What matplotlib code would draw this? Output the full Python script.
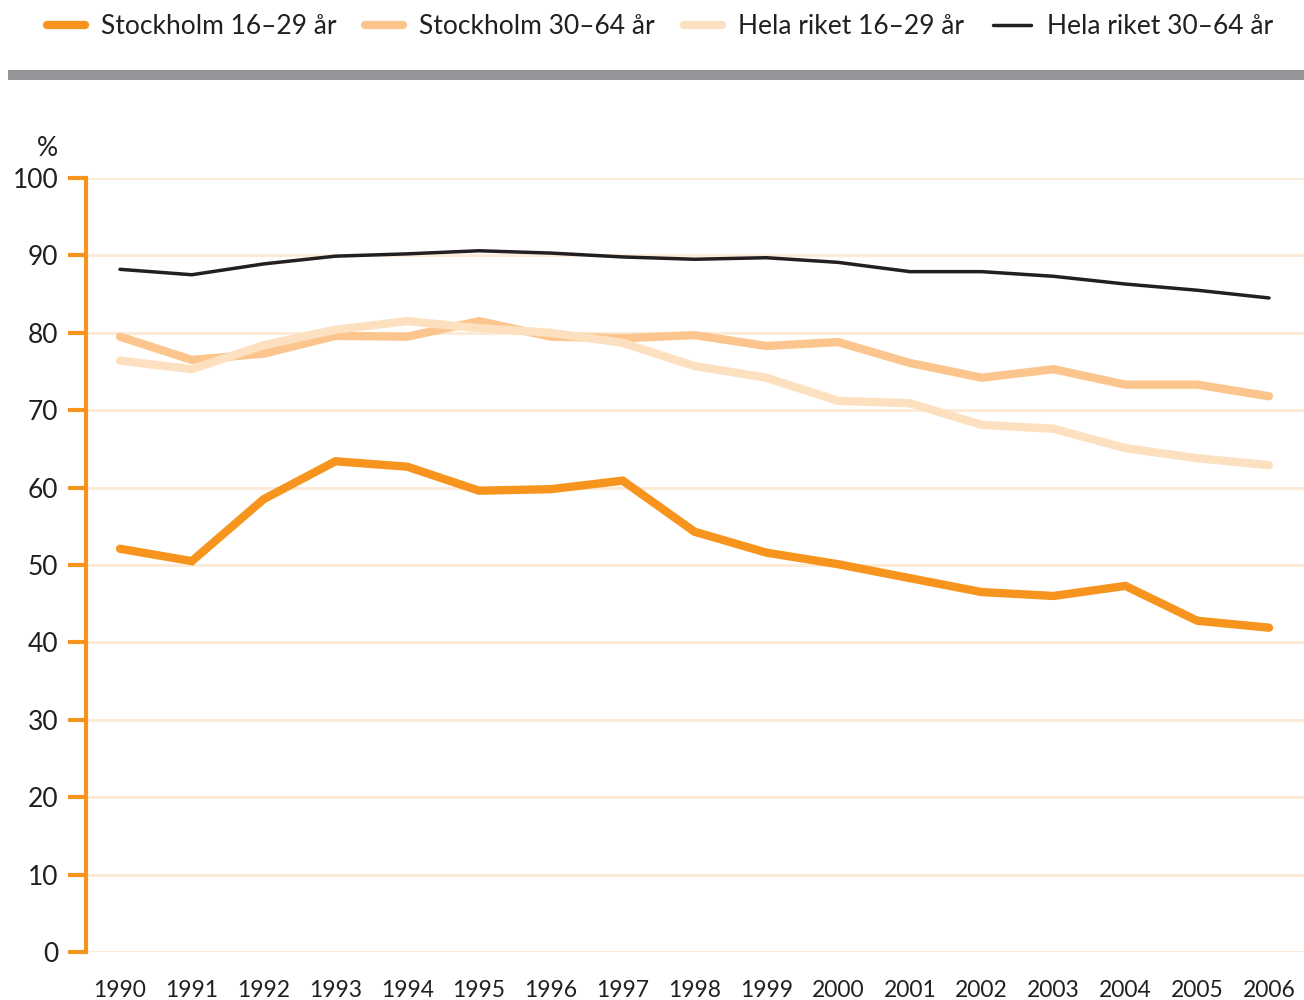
import matplotlib
matplotlib.use("Agg")
import matplotlib.pyplot as plt
from matplotlib.patches import Rectangle

years = list(range(1990, 2007))
sthlm_16_29 = [52.1, 50.5, 58.5, 63.4, 62.7, 59.6, 59.8, 60.9, 54.3, 51.6, 50.1, 48.3, 46.5, 46.0, 47.3, 42.8, 41.9]
sthlm_30_64 = [79.5, 76.5, 77.3, 79.6, 79.5, 81.5, 79.5, 79.3, 79.7, 78.3, 78.8, 76.1, 74.2, 75.3, 73.3, 73.3, 71.8]
riket_16_29 = [76.4, 75.3, 78.4, 80.4, 81.5, 80.6, 80.0, 78.7, 75.7, 74.2, 71.2, 70.9, 68.1, 67.6, 65.1, 63.8, 62.9]
riket_30_64 = [88.2, 87.5, 88.9, 89.9, 90.2, 90.6, 90.3, 89.8, 89.5, 89.7, 89.1, 87.9, 87.9, 87.3, 86.3, 85.5, 84.5]
labels = ["Stockholm 16–29 år", "Stockholm 30–64 år", "Hela riket 16–29 år", "Hela riket 30–64 år"]
yticks = list(range(0, 101, 10))

c_dark = "#F7941D"
c_mid = "#FBC58D"
c_light = "#FDE0C0"
c_black = "#231F20"
c_grid = "#FDEBD9"

plt.rcParams['font.family'] = ['Lato', 'DejaVu Sans']

fig = plt.figure(figsize=(13.04, 10), dpi=100)
ax = fig.add_axes([86/1304, 48/1000, 1 - 86/1304, 774/1000])

series = [(sthlm_16_29, c_dark, 6.0), (sthlm_30_64, c_mid, 6.0),
          (riket_16_29, c_light, 6.0), (riket_30_64, c_black, 2.5)]
handles = []
for (vals, col, lw), lab in zip(series, labels):
    h, = ax.plot(years, vals, color=col, lw=lw, label=lab,
                 solid_capstyle='round', solid_joinstyle='miter', zorder=3)
    handles.append(h)

ax.set_xlim(1990 - 34/71.8, 2006 + 35/71.8)
ax.set_ylim(0, 100)
ax.set_yticks(yticks)
ax.set_xticks(years)
ax.set_xticklabels([str(y) for y in years])
ax.yaxis.grid(True, color=c_grid, lw=2.2, zorder=0)
ax.xaxis.grid(False)
for s in ['top', 'right', 'bottom']:
    ax.spines[s].set_visible(False)
ax.spines['left'].set_color(c_dark)
ax.spines['left'].set_linewidth(3)
ax.spines['left'].set_zorder(4)
ax.tick_params(axis='y', length=13, width=3, color=c_dark, labelsize=19,
               labelcolor='#231F20', pad=7)
ax.tick_params(axis='x', length=0, labelsize=16.5, labelcolor='#231F20', pad=20)

fig.text(47/1304, 1 - 148/1000, "%", fontsize=19, color='#231F20', ha='center', va='center')

fig.patches.append(Rectangle((8/1304, 1 - 80/1000), 1 - 8/1304, 10/1000,
                             transform=fig.transFigure, color='#939598', lw=0))

leg = fig.legend(handles=handles, labels=labels, loc='center left',
                 bbox_to_anchor=(47/1304, 1 - 27/1000), ncol=4, frameon=False,
                 fontsize=19, handlelength=1.44, handletextpad=0.6,
                 columnspacing=1.1, borderaxespad=0, borderpad=0)
for t in leg.get_texts():
    t.set_color('#231F20')
for lh in leg.get_lines():
    lh.set_solid_capstyle('round')

fig.savefig("out.png", dpi=100)
